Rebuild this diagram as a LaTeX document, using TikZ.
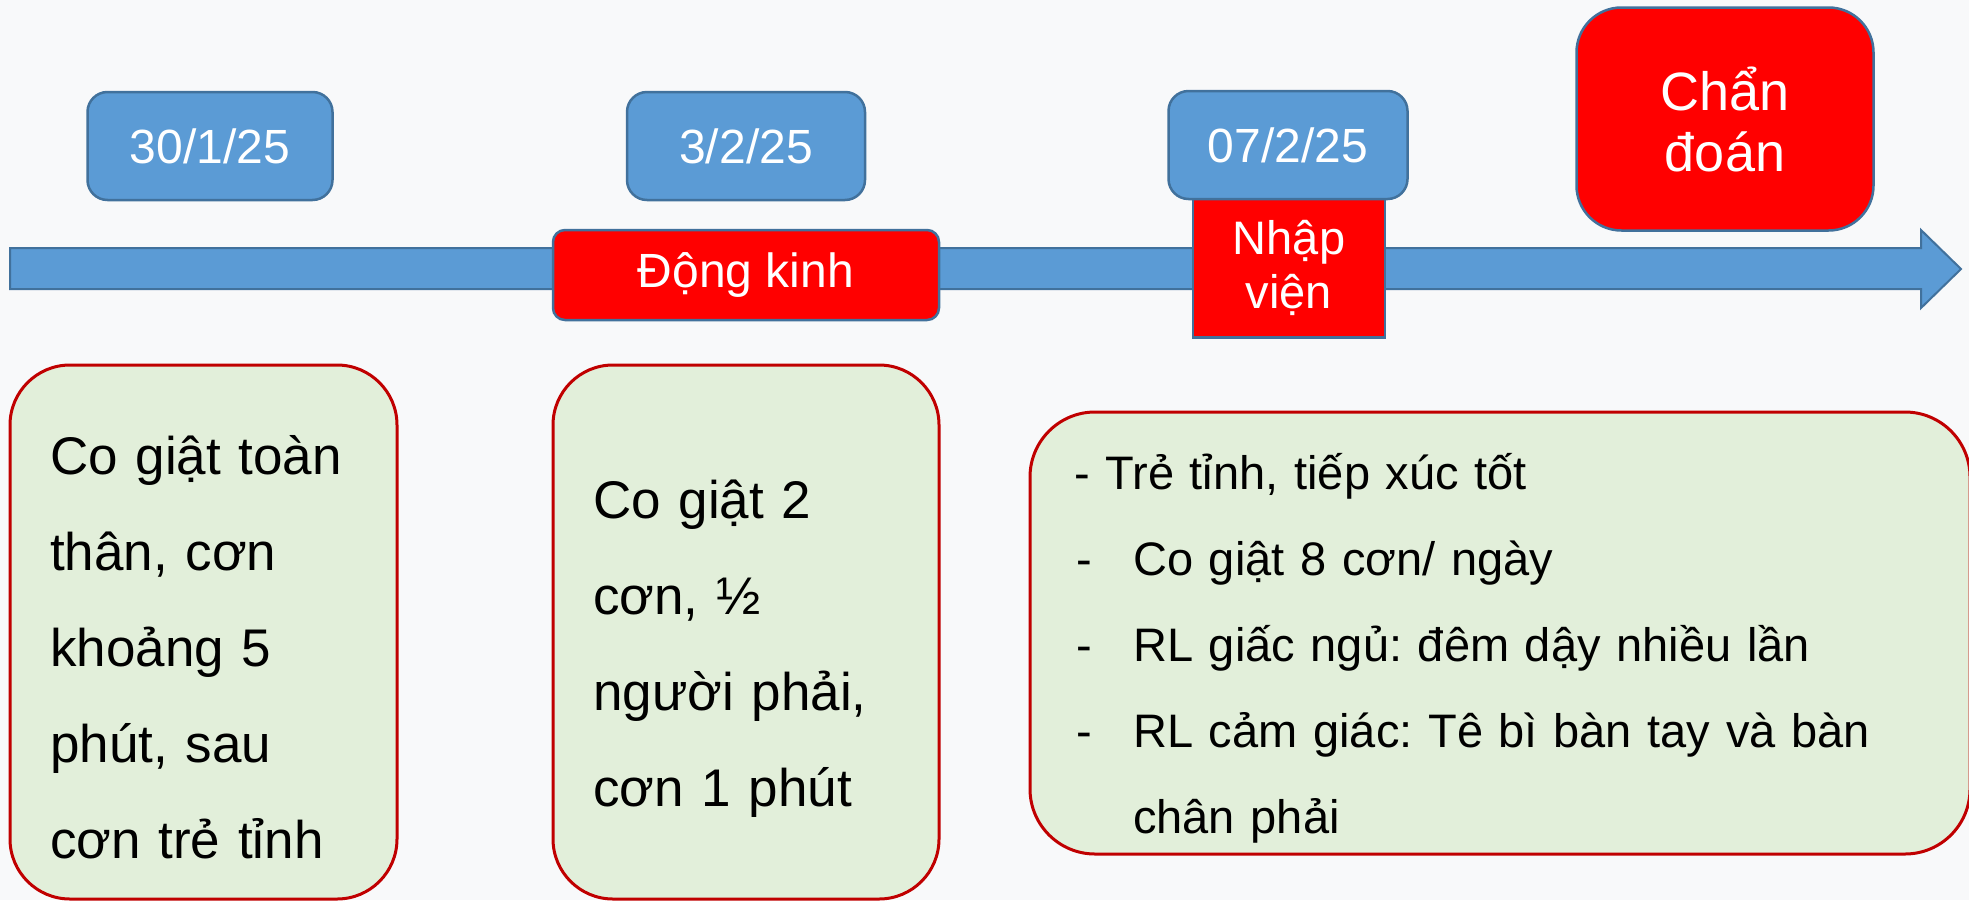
\documentclass[tikz,border=0pt]{standalone}
\usepackage{fontspec}
\setmainfont{Liberation Sans}
\definecolor{bgcol}{HTML}{F8F9FA}
\definecolor{bluefill}{HTML}{5B9BD5}
\definecolor{blueline}{HTML}{41719C}
\definecolor{redfill}{HTML}{FF0000}
\definecolor{greenfill}{HTML}{E2EFDA}
\definecolor{greenline}{HTML}{C00000}
\frenchspacing
\begin{document}
\begin{tikzpicture}[x=1pt,y=-1pt,
  datebox/.style={draw=blueline, fill=bluefill, line width=2.5pt, rounded corners=20pt,
    minimum width=245pt, minimum height=108pt, text=white, inner sep=0pt,
    font=\fontsize{48}{58}\selectfont},
  redbox/.style={draw=blueline, fill=redfill, line width=2.5pt, text=white, inner sep=0pt, align=center},
  greenbox/.style={draw=greenline, fill=greenfill, line width=3pt, rounded corners=60pt, inner sep=0pt},
  bodytext/.style={anchor=west, inner sep=0pt, align=left, text width=340pt,
    font=\fontsize{53}{96}\selectfont},
  listtext/.style={anchor=west, inner sep=0pt, align=left, text width=860pt,
    font=\fontsize{47}{86}\selectfont}
]
\fill[bgcol] (0,0) rectangle (1969,900);
\useasboundingbox (0,0) rectangle (1969,900);

% timeline arrow
\coordinate (tailtop) at (10,248);
\coordinate (tip) at (1961,269);
\filldraw[fill=bluefill, draw=blueline, line width=2pt]
  (tailtop) -- (1921,248) -- (1921,230) -- (tip) -- (1921,308) -- (1921,289) -- (10,289) -- cycle;

% date boxes
\node[datebox] (d1) at (210,146) {30/1/25};
\node[datebox, minimum width=238pt] (d2) at (746,146) {3/2/25};
\node[redbox, minimum width=192pt, minimum height=139pt, font=\fontsize{47}{54}\selectfont] (nv) at (1289,268) {Nhập\\viện};
\node[datebox, minimum width=239pt] (d3) at (1288,145) {07/2/25};

% events
\node[redbox, rounded corners=12pt, minimum width=386pt, minimum height=90pt,
  font=\fontsize{48}{58}\selectfont] (dk) at (746,275) {Động kinh};
\node[redbox, rounded corners=45pt, minimum width=297pt, minimum height=223pt,
  font=\fontsize{54}{61}\selectfont] (cd) at (1725,119) {Chẩn\\đoán};

% description boxes
\node[greenbox, minimum width=387pt, minimum height=534pt] (g1) at (203.5,632) {};
\node[greenbox, minimum width=386pt, minimum height=534pt] (g2) at (746,632) {};
\node[greenbox, rounded corners=65pt, minimum width=940pt, minimum height=442pt] (g3) at (1500,633) {};

\node[bodytext] (t1) at (50,647) {Co giật toàn\\thân, cơn\\khoảng 5\\phút, sau\\cơn trẻ tỉnh};
\node[bodytext] (t2) at (593,649) {Co giật 2\\cơn, ½\\người phải,\\cơn 1 phút};
\node[listtext] (t3) at (1074,648) {- Trẻ tỉnh, tiếp xúc tốt\\
\makebox[59pt][l]{\hspace*{2pt}-}Co giật 8 cơn/ ngày\\
\makebox[59pt][l]{\hspace*{2pt}-}RL giấc ngủ: đêm dậy nhiều lần\\
\makebox[59pt][l]{\hspace*{2pt}-}RL cảm giác: Tê bì bàn tay và bàn\\
\hspace*{59pt}chân phải};
\end{tikzpicture}
\end{document}
